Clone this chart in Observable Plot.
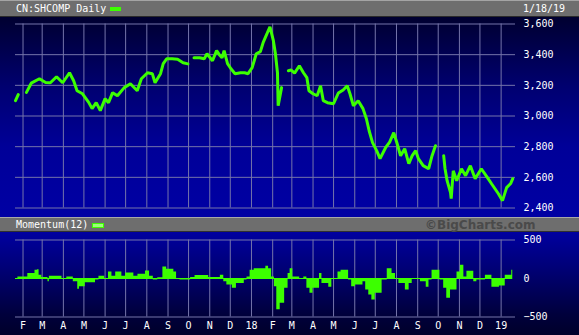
<!DOCTYPE html>
<html>
<head>
<meta charset="utf-8">
<script src="https://cdn.jsdelivr.net/npm/d3@7"></script>
<script src="https://cdn.jsdelivr.net/npm/@observablehq/plot@0.6"></script>
<style>
  html, body { margin: 0; padding: 0; background: #000030; }
  #wrap { width: 579px; height: 335px; position: relative; overflow: hidden; font-family: "DejaVu Sans Mono", monospace; }
  .band { position: relative; box-sizing: border-box; background: #6e6e6e; color: #fff; font-size: 10px; }
  #top { height: 17px; border-top: 1px solid #a4a4a4; border-bottom: 1px solid #2a2a2a; }
  #mid { height: 15px; border-top: 1px solid #a8a8a8; border-bottom: 1px solid #303030; }
  .lbl { position: absolute; line-height: 10px; white-space: pre; }
  .sw { position: absolute; }
  #main { height: 200px; background: linear-gradient(#000030 0%, #000070 35%, #000098 65%, #0000a4 100%); }
  #mom { height: 103px; background: linear-gradient(#0000a0 0%, #000070 40%, #00003c 80%, #00002a 100%); }
  figure, svg { margin: 0; display: block; }
</style>
</head>
<body>
<div id="wrap">
  <div class="band" id="top">
    <span class="lbl" id="title" style="left:16px; top:3px;"></span>
    <span class="sw" style="left:110px; top:6px; width:11px; height:4px; background:#3cff00;"></span>
    <span class="lbl" id="date" style="left:523px; top:3px;"></span>
  </div>
  <div id="main"></div>
  <div class="band" id="mid">
    <span class="lbl" id="momTitle" style="left:16px; top:2px;"></span>
    <span class="sw" style="left:92px; top:5px; width:10px; height:3px; background:#9cff7a; border:1px solid #3cff00;"></span>
    <span class="lbl" id="credit" style="left:425px; top:1px; font-family:'DejaVu Sans'; font-weight:bold; font-size:12px; line-height:13px; color:#4a4a4a;"></span>
  </div>
  <div id="mom"></div>
</div>
<script>
// ---- text ----
const titleText = "CN:SHCOMP Daily";
const dateText = "1/18/19";
const momTitleText = "Momentum(12)";
const creditText = "\u00a9BigCharts.com";

// ---- axes ----
const xDomain = ["2017-01-21", "2019-01-22"];
const priceTicks = [2400, 2600, 2800, 3000, 3200, 3400, 3600];
const momTicks = [-500, 0, 500];
const monthTicks = ["2017-02-01","2017-03-01","2017-04-01","2017-05-01","2017-06-01","2017-07-01",
  "2017-08-01","2017-09-01","2017-10-01","2017-11-01","2017-12-01","2018-01-01","2018-02-01",
  "2018-03-01","2018-04-01","2018-05-01","2018-06-01","2018-07-01","2018-08-01","2018-09-01",
  "2018-10-01","2018-11-01","2018-12-01","2019-01-01"];
const monthLabels = ["F","M","A","M","J","J","A","S","O","N","D","18","F","M","A","M","J","J","A","S","O","N","D","19"];

// ---- price (null = no trading) ----
const shcomp = [
  ["2017-01-21",3100],["2017-01-25",3140],["2017-01-30",null],["2017-02-06",3154],["2017-02-13",3214],
  ["2017-02-25",3243],["2017-03-06",3219],["2017-03-13",3217],["2017-03-22",3256],["2017-03-31",3217],
  ["2017-04-10",3282],["2017-04-16",3230],["2017-04-21",3165],["2017-04-29",3145],["2017-05-08",3089],
  ["2017-05-13",3048],["2017-05-19",3087],["2017-05-25",3035],["2017-06-01",3113],["2017-06-06",3087],
  ["2017-06-12",3152],["2017-06-19",3132],["2017-06-29",3185],["2017-07-08",3210],["2017-07-18",3165],
  ["2017-07-24",3243],["2017-08-02",3282],["2017-08-09",3276],["2017-08-13",3217],["2017-08-21",3276],
  ["2017-08-25",3341],["2017-08-30",3373],["2017-09-07",3373],["2017-09-15",3370],["2017-09-23",3347],
  ["2017-09-30",3340],["2017-10-04",null],["2017-10-09",3380],["2017-10-17",3380],["2017-10-24",3373],
  ["2017-10-28",3406],["2017-11-05",3360],["2017-11-11",3426],["2017-11-15",3400],["2017-11-19",3380],
  ["2017-11-22",3426],["2017-11-27",3341],["2017-12-02",3308],["2017-12-08",3276],["2017-12-16",3282],
  ["2017-12-22",3282],["2017-12-27",3276],["2018-01-02",3315],["2018-01-08",3406],["2018-01-14",3420],
  ["2018-01-18",3478],["2018-01-24",3540],["2018-01-28",3582],["2018-02-02",3491],["2018-02-05",3406],
  ["2018-02-08",3282],["2018-02-09",3067],["2018-02-14",3185],["2018-02-19",null],["2018-02-24",3295],
  ["2018-02-28",3300],["2018-03-05",3280],["2018-03-12",3328],["2018-03-18",3282],["2018-03-23",3250],
  ["2018-03-26",3165],["2018-04-01",3145],["2018-04-07",3132],["2018-04-12",3197],["2018-04-16",3100],
  ["2018-04-22",3087],["2018-05-01",3080],["2018-05-08",3150],["2018-05-15",3170],["2018-05-21",3197],
  ["2018-05-25",3145],["2018-05-30",3067],["2018-06-06",3100],["2018-06-13",3048],["2018-06-18",2982],
  ["2018-06-22",2904],["2018-06-27",2826],["2018-07-03",2774],["2018-07-08",2722],["2018-07-16",2793],
  ["2018-07-22",2830],["2018-07-28",2891],["2018-08-02",2819],["2018-08-07",2741],["2018-08-13",2787],
  ["2018-08-19",2689],["2018-08-24",2741],["2018-08-29",2774],["2018-09-02",2722],["2018-09-09",2676],
  ["2018-09-17",2656],["2018-09-22",2741],["2018-09-27",2806],["2018-10-03",null],["2018-10-09",2741],
  ["2018-10-11",2656],["2018-10-14",2578],["2018-10-19",2500],["2018-10-20",2461],["2018-10-23",2643],
  ["2018-10-28",2578],["2018-11-04",2656],["2018-11-10",2611],["2018-11-17",2676],["2018-11-24",2591],
  ["2018-12-03",2656],["2018-12-12",2598],["2018-12-18",2558],["2018-12-28",2493],["2019-01-03",2448],
  ["2019-01-09",2533],["2019-01-15",2560],["2019-01-18",2591]
];

// ---- momentum(12) ----
const momentum = [
  ["2017-01-21",-10],["2017-01-28",20],["2017-02-04",20],["2017-02-12",64],["2017-02-16",64],
  ["2017-02-21",107],["2017-02-23",115],["2017-02-26",43],["2017-03-03",13],["2017-03-09",13],
  ["2017-03-10",-43],["2017-03-13",30],["2017-03-20",30],["2017-03-28",30],["2017-04-01",-13],
  ["2017-04-04",-13],["2017-04-08",21],["2017-04-14",21],["2017-04-17",-43],["2017-04-21",-43],
  ["2017-04-23",-141],["2017-04-26",-107],["2017-04-30",-107],["2017-05-06",-55],["2017-05-10",-55],
  ["2017-05-15",-55],["2017-05-21",-21],["2017-05-25",30],["2017-05-29",30],["2017-06-03",0],
  ["2017-06-09",85],["2017-06-13",30],["2017-06-20",85],["2017-06-23",85],["2017-06-28",30],
  ["2017-07-04",73],["2017-07-11",73],["2017-07-15",30],["2017-07-23",56],["2017-07-27",56],
  ["2017-08-02",98],["2017-08-08",30],["2017-08-13",-21],["2017-08-21",9],["2017-08-28",150],
  ["2017-09-01",120],["2017-09-07",120],["2017-09-12",85],["2017-09-15",0],["2017-09-22",-21],
  ["2017-10-01",-21],["2017-10-07",13],["2017-10-14",38],["2017-10-23",38],["2017-10-28",38],
  ["2017-11-02",13],["2017-11-09",13],["2017-11-14",13],["2017-11-19",43],["2017-11-24",-43],
  ["2017-11-28",-85],["2017-12-01",-85],["2017-12-07",-128],["2017-12-13",-64],["2017-12-19",-64],
  ["2017-12-24",-21],["2017-12-27",21],["2018-01-02",107],["2018-01-08",128],["2018-01-14",128],
  ["2018-01-20",128],["2018-01-24",158],["2018-01-28",128],["2018-02-02",21],["2018-02-05",-107],
  ["2018-02-09",-406],["2018-02-15",-320],["2018-02-22",-128],["2018-02-25",64],["2018-02-28",128],
  ["2018-03-05",21],["2018-03-09",21],["2018-03-16",-13],["2018-03-21",21],["2018-03-25",-128],
  ["2018-03-30",-192],["2018-04-03",-128],["2018-04-09",-128],["2018-04-12",64],["2018-04-16",-64],
  ["2018-04-22",-64],["2018-04-26",-115],["2018-05-01",-13],["2018-05-06",-13],["2018-05-09",85],
  ["2018-05-15",107],["2018-05-21",107],["2018-05-25",-21],["2018-05-30",-107],["2018-06-05",-85],
  ["2018-06-11",-85],["2018-06-15",-43],["2018-06-19",-150],["2018-06-24",-214],["2018-06-28",-278],
  ["2018-07-04",-192],["2018-07-08",-192],["2018-07-14",-21],["2018-07-23",128],["2018-07-28",64],
  ["2018-08-02",0],["2018-08-07",-64],["2018-08-11",-64],["2018-08-17",-150],["2018-08-22",-64],
  ["2018-08-26",-13],["2018-09-02",-13],["2018-09-08",-43],["2018-09-12",-43],["2018-09-15",-115],
  ["2018-09-20",-21],["2018-09-24",107],["2018-09-30",107],["2018-10-07",-21],["2018-10-11",-128],
  ["2018-10-16",-256],["2018-10-22",-150],["2018-10-26",-150],["2018-10-31",85],["2018-11-05",171],
  ["2018-11-10",21],["2018-11-14",94],["2018-11-20",94],["2018-11-24",-43],["2018-11-29",-21],
  ["2018-12-06",-21],["2018-12-12",43],["2018-12-16",43],["2018-12-21",-115],["2018-12-28",-115],
  ["2018-12-31",-98],["2019-01-04",-98],["2019-01-10",43],["2019-01-15",43],["2019-01-18",107]
];

// ---- build ----
const parse = s => new Date(s + "T00:00:00Z");
const priceData = shcomp.map(([d, v]) => ({date: parse(d), value: v}));
const momData = momentum.map(([d, v]) => ({date: parse(d), value: v}));
const ticks = monthTicks.map(parse);
const labelMap = new Map(ticks.map((t, i) => [+t, monthLabels[i]]));
const domain = xDomain.map(parse);

const green = "#3cff00";
const gridColor = "#7474aa";
const style = {background: "transparent", color: "#fff", fontFamily: "DejaVu Sans Mono, monospace", fontSize: "10px", overflow: "visible"};

document.getElementById("title").textContent = titleText;
document.getElementById("date").textContent = dateText;
document.getElementById("momTitle").textContent = momTitleText;
document.getElementById("credit").textContent = creditText;

const main = Plot.plot({
  width: 579, height: 200,
  marginLeft: 15, marginRight: 64, marginTop: 6.5, marginBottom: 9.5,
  style,
  x: {type: "utc", domain, axis: null},
  y: {domain: [2400, 3600], axis: null},
  marks: [
    Plot.gridX(ticks, {stroke: gridColor, strokeOpacity: 1}),
    Plot.gridY(priceTicks, {stroke: gridColor, strokeOpacity: 1}),
    Plot.axisY(priceTicks, {anchor: "right", tickSize: 0, tickPadding: 8, tickFormat: d3.format(","), label: null, fill: "#fff"}),
    Plot.line(priceData, {x: "date", y: "value", stroke: green, strokeWidth: 3, strokeLinejoin: "miter"})
  ]
});
document.getElementById("main").appendChild(main);

const mom = Plot.plot({
  width: 579, height: 103,
  marginLeft: 15, marginRight: 64, marginTop: 7.5, marginBottom: 18.5,
  style,
  x: {type: "utc", domain},
  y: {domain: [-500, 500]},
  marks: [
    Plot.gridX(ticks, {stroke: gridColor, strokeOpacity: 1}),
    Plot.gridY([-500, 500], {stroke: gridColor, strokeOpacity: 1}),
    Plot.areaY(momData, {x: "date", y: "value", fill: green, curve: "step"}),
    Plot.ruleY([0], {stroke: green, strokeWidth: 1, x1: domain[0], x2: parse("2019-01-18")}),
    Plot.axisY(momTicks, {anchor: "right", tickSize: 0, tickPadding: 8, tickFormat: d3.format("d"), label: null, fill: "#fff"}),
    Plot.axisX(ticks, {anchor: "bottom", tickSize: 0, tickPadding: 5, tickFormat: d => labelMap.get(+d), label: null, fill: "#fff"})
  ]
});
document.getElementById("mom").appendChild(mom);
</script>
</body>
</html>
